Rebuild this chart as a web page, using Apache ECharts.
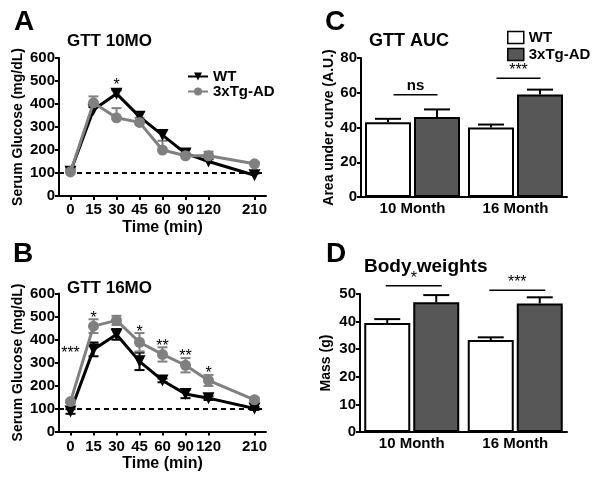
<!DOCTYPE html>
<html><head><meta charset="utf-8">
<script src="https://cdn.jsdelivr.net/npm/echarts@6/dist/echarts.min.js"></script>
<style>html,body{margin:0;padding:0;background:#fff}#c{width:601px;height:482px}</style>
</head><body><div id="c"></div>
<script>
// ---------- data ----------
const timeLabels = ['0','15','30','45','60','90','120','','210'];
const timeIdx = [0,1,2,3,4,5,6,8];
const gtt10Wt    = [105, 375, 445, 345, 265, 185, 150, 90];
const gtt10WtErr = [10, 12, 15, 20, 20, 18, 10, 8];
const gtt10Tg    = [105, 405, 340, 320, 200, 175, 175, 140];
const gtt10TgErr = [10, 28, 42, 20, 40, 12, 18, 8];
const gtt16Wt    = [87, 357, 422, 305, 222, 163, 145, 100];
const gtt16WtErr = [10, 30, 23, 38, 8, 18, 8, 6];
const gtt16Tg    = [130, 458, 483, 388, 335, 288, 222, 138];
const gtt16TgErr = [6, 30, 20, 40, 31, 31, 24, 8];
const stars10 = [[2, 496, '*']];
const stars16 = [[0, 355, '***'], [1, 507, '*'], [3, 446, '*'], [4, 386, '**'], [5, 342, '**'], [6, 268, '*']];
const groups = ['10 Month', '16 Month'];
const aucWt = [43, 40];
const aucWtErr = [2, 1.7];
const aucTg = [46, 59];
const aucTgErr = [4.4, 2.8];
const bwWt = [39.5, 33.3];
const bwWtErr = [1.4, 1.0];
const bwTg = [47, 46.6];
const bwTgErr = [2.6, 2.2];
const aucSig = [[0, 58.8, 'ns'], [1, 68.4, '***']];
const bwSig = [[0, 53.0, '*'], [1, 51.4, '***']];

// ---------- styles ----------
const FONT = '"Liberation Sans", Arial, sans-serif';
const BLACK = '#000';
const GRAY = '#808080';
const DARK = '#575757';
const BAR_W = 46, BAR_GAP = 3;
const BAR_OFF = (BAR_W + BAR_GAP) / 2;

const grids = [
  {left: 59, top: 58, width: 207, height: 138},
  {left: 59, top: 293.5, width: 207, height: 138},
  {left: 361, top: 58, width: 206, height: 139},
  {left: 360, top: 294, width: 207, height: 138}
];

const axisLine = {show: true, lineStyle: {color: BLACK, width: 2}};
const axisTick = {show: true, length: 4, lineStyle: {color: BLACK, width: 2}};
const lbl = (m) => ({color: BLACK, fontSize: 15, fontWeight: 'bold', fontFamily: FONT, margin: m});

function timeAxis(gi, margin, gap) {
  return {
    type: 'category', gridIndex: gi, data: timeLabels, boundaryGap: true,
    axisLine, axisTick: Object.assign({}, axisTick, {alignWithLabel: true, interval: (i, v) => v !== ''}),
    axisLabel: Object.assign(lbl(margin), {interval: 0}),
    splitLine: {show: false},
    name: 'Time (min)', nameLocation: 'middle', nameGap: gap,
    nameTextStyle: {color: BLACK, fontSize: 16, fontWeight: 'bold', fontFamily: FONT}
  };
}
function valAxis(gi, max, interval, name, gap, nfs) {
  return {
    type: 'value', gridIndex: gi, min: 0, max, interval,
    axisLine, axisTick, axisLabel: lbl(4), splitLine: {show: false},
    name, nameLocation: 'middle', nameGap: gap,
    nameTextStyle: {color: BLACK, fontSize: nfs, fontWeight: 'bold', fontFamily: FONT}
  };
}
function groupAxis(gi) {
  return {
    type: 'category', gridIndex: gi, data: groups,
    axisLine, axisTick: {show: false},
    axisLabel: lbl(4), splitLine: {show: false}
  };
}

function lineSeries(name, gi, vals, color, symbol, rot, z) {
  return {
    type: 'line', name, xAxisIndex: gi, yAxisIndex: gi, z,
    data: timeIdx.map((t, i) => [t, vals[i]]),
    symbol, symbolRotate: rot, symbolSize: symbol === 'circle' ? 11 : 12,
    lineStyle: {color, width: 3}, itemStyle: {color},
    emphasis: {disabled: true}, animation: false
  };
}
function errLine(gi, vals, errs, both, color, z) {
  return {
    type: 'custom', name: 'err', xAxisIndex: gi, yAxisIndex: gi, z,
    data: timeIdx.map((t, i) => [t, vals[i], errs[i]]),
    renderItem: (p, api) => {
      const x = api.value(0), m = api.value(1), e = api.value(2);
      const t = api.coord([x, m + e]);
      const b = api.coord([x, both ? m - e : m]);
      const st = {stroke: color, lineWidth: 2};
      const ch = [
        {type: 'line', shape: {x1: t[0], y1: t[1], x2: b[0], y2: b[1]}, style: st},
        {type: 'line', shape: {x1: t[0] - 5, y1: t[1], x2: t[0] + 5, y2: t[1]}, style: st}
      ];
      if (both) ch.push({type: 'line', shape: {x1: b[0] - 5, y1: b[1], x2: b[0] + 5, y2: b[1]}, style: st});
      return {type: 'group', children: ch};
    },
    animation: false, silent: true
  };
}
function starSeries(gi, arr) {
  return {
    type: 'custom', name: 'stars', xAxisIndex: gi, yAxisIndex: gi, z: 10,
    data: arr.map(d => [d[0], d[1]]),
    renderItem: (p, api) => {
      const c = api.coord([api.value(0), api.value(1)]);
      return {type: 'text', x: c[0], y: c[1] + 4,
        style: {text: arr[p.dataIndex][2], fill: BLACK, font: '16px ' + FONT, align: 'center', verticalAlign: 'middle'}};
    },
    animation: false, silent: true
  };
}
function barSeries(name, gi, vals, fill) {
  return {
    type: 'bar', name, xAxisIndex: gi, yAxisIndex: gi, data: vals,
    barWidth: BAR_W, barGap: (BAR_GAP / BAR_W * 100) + '%',
    itemStyle: {color: fill, borderColor: BLACK, borderWidth: 2},
    emphasis: {disabled: true}, animation: false, z: 2
  };
}
function errBar(gi, vals, errs, off) {
  return {
    type: 'custom', name: 'errb', xAxisIndex: gi, yAxisIndex: gi, z: 1,
    data: vals.map((v, i) => [i, v, errs[i]]),
    renderItem: (p, api) => {
      const x = api.value(0), m = api.value(1), e = api.value(2);
      const t = api.coord([x, m + e]);
      const b = api.coord([x, m]);
      const cx = t[0] + off;
      const st = {stroke: BLACK, lineWidth: 2};
      return {type: 'group', children: [
        {type: 'line', shape: {x1: cx, y1: t[1], x2: cx, y2: b[1]}, style: st},
        {type: 'line', shape: {x1: cx - 13, y1: t[1], x2: cx + 13, y2: t[1]}, style: st}
      ]};
    },
    animation: false, silent: true
  };
}
function sigSeries(gi, arr, half, dx) {
  return {
    type: 'custom', name: 'sig', xAxisIndex: gi, yAxisIndex: gi, z: 5,
    data: arr.map(d => [d[0], d[1]]),
    renderItem: (p, api) => {
      const c = api.coord([api.value(0), api.value(1)]);
      const cx = c[0] + dx;
      const txt = arr[p.dataIndex][2];
      const ns = txt === 'ns';
      return {type: 'group', children: [
        {type: 'line', shape: {x1: cx - half, y1: c[1], x2: cx + half, y2: c[1]}, style: {stroke: BLACK, lineWidth: 1.5}},
        {type: 'text', x: cx, y: c[1] - (ns ? 9 : 7.5),
          style: {text: txt, fill: BLACK, font: (ns ? 'bold 15px ' : '16px ') + FONT, align: 'center', verticalAlign: 'middle'}}
      ]};
    },
    animation: false, silent: true
  };
}

const titleStyle = (fs) => ({color: BLACK, fontSize: fs, fontWeight: 'bold', fontFamily: FONT});
const option = {
  backgroundColor: '#fff',
  animation: false,
  title: [
    {text: 'A', left: 9, top: 3, textStyle: titleStyle(28)},
    {text: 'GTT 10MO', left: 62, top: 28, textStyle: titleStyle(17)},
    {text: 'B', left: 8, top: 235, textStyle: titleStyle(28)},
    {text: 'GTT 16MO', left: 62, top: 275, textStyle: titleStyle(17)},
    {text: 'C', left: 320, top: 3, textStyle: titleStyle(28)},
    {text: 'GTT AUC', left: 364, top: 27, textStyle: titleStyle(18)},
    {text: 'D', left: 321, top: 235, textStyle: titleStyle(28)},
    {text: 'Body weights', left: 359, top: 252, textStyle: titleStyle(19)}
  ],
  legend: [
    {left: 187, top: 69, padding: 0, orient: 'vertical', itemGap: 0, itemWidth: 20, itemHeight: 10,
      data: ['WT', '3xTg-AD'], selectedMode: false,
      textStyle: {color: BLACK, fontSize: 15, fontWeight: 'bold', fontFamily: FONT, lineHeight: 14}},
    {left: 507, top: 30, padding: 0, orient: 'vertical', itemGap: 2, itemWidth: 16, itemHeight: 12, selectedMode: false,
      data: [
        {name: 'WT', icon: 'rect', itemStyle: {color: '#fff', borderColor: BLACK, borderWidth: 1.5}},
        {name: '3xTg-AD', icon: 'rect', itemStyle: {color: DARK, borderColor: BLACK, borderWidth: 1.5}}
      ],
      textStyle: {color: BLACK, fontSize: 15, fontWeight: 'bold', fontFamily: FONT, lineHeight: 14}}
  ],
  grid: grids,
  xAxis: [timeAxis(0, 6, 24), timeAxis(1, 8, 20), groupAxis(2), groupAxis(3)],
  yAxis: [
    valAxis(0, 600, 100, 'Serum Glucose (mg/dL)', 34, 14),
    valAxis(1, 600, 100, 'Serum Glucose (mg/dL)', 34, 14),
    valAxis(2, 80, 20, 'Area under curve (A.U.)', 25, 14),
    valAxis(3, 50, 10, 'Mass (g)', 27, 14)
  ],
  series: [
    Object.assign(lineSeries('WT', 0, gtt10Wt, BLACK, 'triangle', 180, 4), {
      markLine: {silent: true, symbol: 'none', label: {show: false},
        lineStyle: {color: BLACK, type: [5, 4], width: 2}, data: [{yAxis: 100}], animation: false}
    }),
    lineSeries('3xTg-AD', 0, gtt10Tg, GRAY, 'circle', 0, 5),
    errLine(0, gtt10Wt, gtt10WtErr, false, BLACK, 3),
    errLine(0, gtt10Tg, gtt10TgErr, false, GRAY, 3),
    starSeries(0, stars10),
    Object.assign(lineSeries('WT', 1, gtt16Wt, BLACK, 'triangle', 180, 4), {
      markLine: {silent: true, symbol: 'none', label: {show: false},
        lineStyle: {color: BLACK, type: [5, 4], width: 2}, data: [{yAxis: 100}], animation: false}
    }),
    lineSeries('3xTg-AD', 1, gtt16Tg, GRAY, 'circle', 0, 5),
    errLine(1, gtt16Wt, gtt16WtErr, true, BLACK, 3),
    errLine(1, gtt16Tg, gtt16TgErr, true, GRAY, 3),
    starSeries(1, stars16),
    barSeries('WT', 2, aucWt, '#fff'),
    barSeries('3xTg-AD', 2, aucTg, DARK),
    errBar(2, aucWt, aucWtErr, -BAR_OFF),
    errBar(2, aucTg, aucTgErr, BAR_OFF),
    sigSeries(2, aucSig, 22, 3),
    barSeries('WT', 3, bwWt, '#fff'),
    barSeries('3xTg-AD', 3, bwTg, DARK),
    errBar(3, bwWt, bwWtErr, -BAR_OFF),
    errBar(3, bwTg, bwTgErr, BAR_OFF),
    sigSeries(3, bwSig, 28, 2)
  ]
};
const chart = echarts.init(document.getElementById('c'), null, {renderer: 'canvas'});
chart.setOption(option);
</script></body></html>
